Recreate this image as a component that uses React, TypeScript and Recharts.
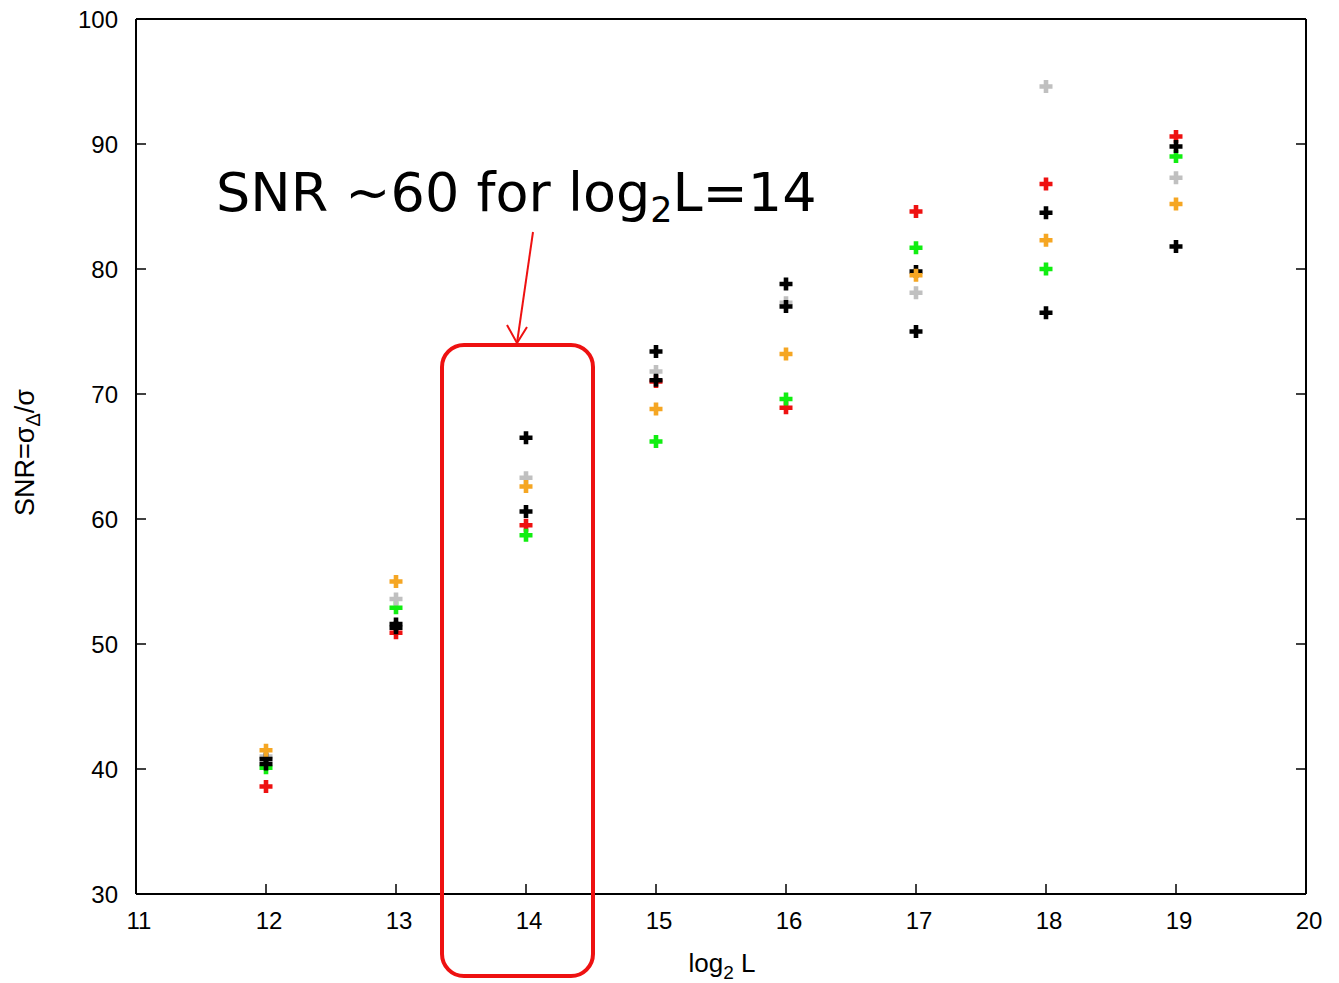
import React from "react";
import { ScatterChart, Scatter, XAxis, YAxis, Label } from "recharts";

const logL = [12, 13, 14, 15, 16, 17, 18, 19];

const redSnr = [38.6, 50.9, 59.5, 71.0, 68.9, 84.6, 86.8, 90.6];
const greenSnr = [40.1, 52.9, 58.7, 66.2, 69.6, 81.7, 80.0, 89.0];
const graySnr = [41.0, 53.6, 63.3, 71.8, 77.3, 78.1, 94.6, 87.3];
const blackUpperSnr = [40.8, 51.6, 66.5, 73.4, 78.8, 79.8, 84.5, 89.8];
const orangeSnr = [41.5, 55.0, 62.6, 68.8, 73.2, 79.5, 82.3, 85.2];
const blackLowerSnr = [40.4, 51.3, 60.6, 71.1, 77.0, 75.0, 76.5, 81.8];

const xTicks = [11, 12, 13, 14, 15, 16, 17, 18, 19, 20];
const yTicks = [30, 40, 50, 60, 70, 80, 90, 100];

const series = [
  { name: "red", color: "#ee1111", values: redSnr },
  { name: "green", color: "#11ee11", values: greenSnr },
  { name: "gray", color: "#c0c0c0", values: graySnr },
  { name: "black1", color: "#000000", values: blackUpperSnr },
  { name: "orange", color: "#f5a623", values: orangeSnr },
  { name: "black2", color: "#000000", values: blackLowerSnr },
];

const W = 1339;
const H = 983;
const font = "'Liberation Sans', Arial, sans-serif";
const tickStyle = { fill: "#000", fontSize: 24, fontFamily: font };
const frame = { stroke: "#000", strokeWidth: 2 };
const tickMark = { stroke: "#000", strokeWidth: 1.5 };

// gnuplot style bold "+" point
function Plus(props: any) {
  const { cx, cy, fill } = props;
  if (cx == null || cy == null) return null;
  const a = 6.5;
  const t = 2.3;
  const d =
    `M${cx - a},${cy - t} H${cx - t} V${cy - a} H${cx + t} V${cy - t} ` +
    `H${cx + a} V${cy + t} H${cx + t} V${cy + a} H${cx - t} V${cy + t} H${cx - a} Z`;
  return <path d={d} fill={fill} />;
}

export default function App() {
  return (
    <div style={{ position: "absolute", left: 0, top: 0, width: W, height: H, background: "#fff" }}>
      <ScatterChart width={W} height={H} margin={{ top: 0, right: 0, bottom: 0, left: 0 }}>
        <XAxis
          type="number"
          dataKey="x"
          domain={[11, 20]}
          ticks={xTicks}
          allowDataOverflow
          height={89}
          axisLine={frame}
          tickLine={tickMark}
          tickSize={-10}
          tickMargin={28}
          tick={{ ...tickStyle, dx: 3 }}
        >
          <Label
            content={(p: any) => {
              const vb = p.viewBox;
              return (
                <text
                  x={vb.x + vb.width / 2 + 1}
                  y={vb.y + 78}
                  textAnchor="middle"
                  fontFamily={font}
                  fontSize={26}
                  fill="#000"
                >
                  log
                  <tspan dy={7} fontSize={19}>2</tspan>
                  <tspan dy={-7}> L</tspan>
                </text>
              );
            }}
          />
        </XAxis>
        <XAxis
          xAxisId="top"
          orientation="top"
          type="number"
          domain={[11, 20]}
          ticks={xTicks}
          allowDataOverflow
          height={19}
          axisLine={frame}
          tickLine={tickMark}
          tickSize={-10}
          tickFormatter={() => ""}
        />
        <YAxis
          type="number"
          dataKey="y"
          domain={[30, 100]}
          ticks={yTicks}
          allowDataOverflow
          width={136}
          axisLine={frame}
          tickLine={tickMark}
          tickSize={-10}
          tickMargin={28}
          tick={tickStyle}
        >
          <Label
            content={(p: any) => {
              const vb = p.viewBox;
              const cx = vb.x + 25;
              const cy = vb.y + vb.height / 2 - 4;
              return (
                <text
                  x={cx}
                  y={cy}
                  transform={`rotate(-90 ${cx} ${cy})`}
                  textAnchor="middle"
                  dominantBaseline="central"
                  fontFamily={font}
                  fontSize={27}
                  fill="#000"
                >
                  SNR=σ
                  <tspan dy={8} fontSize={20}>Δ</tspan>
                  <tspan dy={-8}>/σ</tspan>
                </text>
              );
            }}
          />
        </YAxis>
        <YAxis
          yAxisId="right"
          orientation="right"
          type="number"
          domain={[30, 100]}
          ticks={yTicks}
          allowDataOverflow
          width={33}
          axisLine={frame}
          tickLine={tickMark}
          tickSize={-10}
          tickFormatter={() => ""}
        />
        {series.map((s) => (
          <Scatter
            key={s.name}
            name={s.name}
            data={logL.map((x, i) => ({ x, y: s.values[i] }))}
            fill={s.color}
            shape={Plus}
            isAnimationActive={false}
          />
        ))}
      </ScatterChart>
      <svg
        width={W}
        height={H}
        style={{ position: "absolute", left: 0, top: 0, pointerEvents: "none" }}
      >
        <text x={216} y={211} fontFamily="'DejaVu Sans', Verdana, sans-serif" fontSize={54} fill="#000">
          SNR ~60 for log
          <tspan dy={11} fontSize={35}>2</tspan>
          <tspan dy={-11}>L=14</tspan>
        </text>
        <line x1={533} y1={232} x2={517} y2={343} stroke="#ee1111" strokeWidth={2} />
        <polyline points="507,325 517,343 527,327" fill="none" stroke="#ee1111" strokeWidth={2} />
        <rect x={442} y={345} width={151} height={631} rx={22} ry={22} fill="none" stroke="#ee1111" strokeWidth={4} />
      </svg>
    </div>
  );
}
